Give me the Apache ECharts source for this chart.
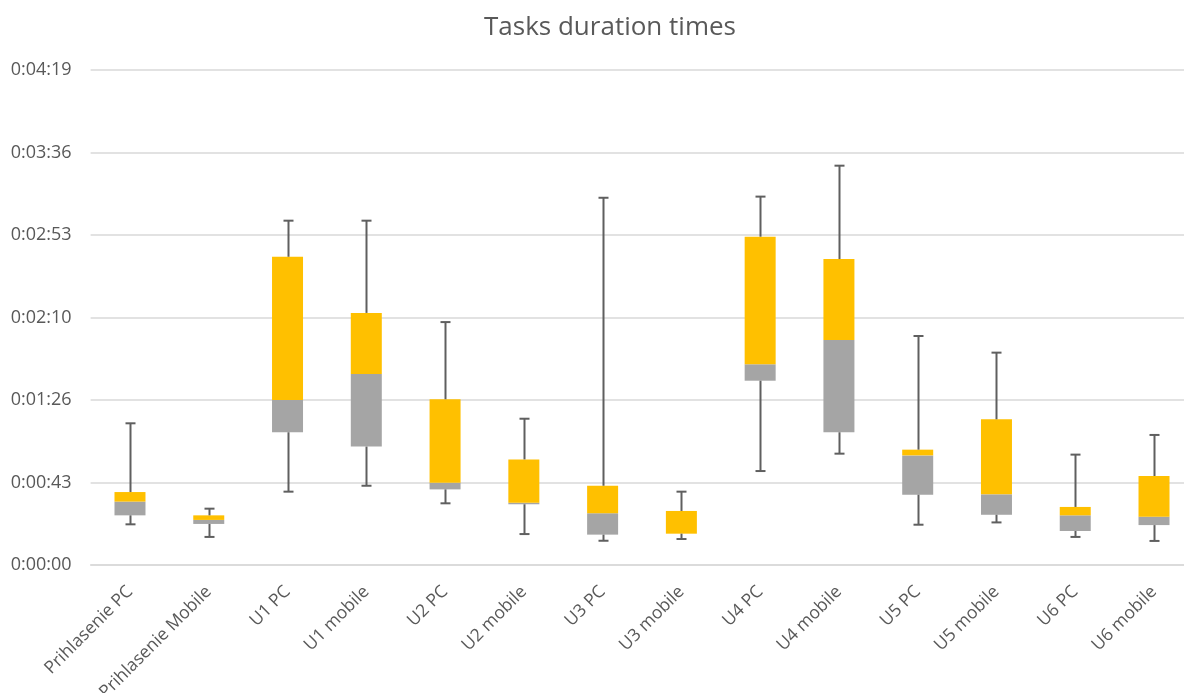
<!DOCTYPE html>
<html>
<head>
<meta charset="utf-8">
<title>Tasks duration times</title>
<script src="https://cdn.jsdelivr.net/npm/echarts@6/dist/echarts.min.js"></script>
<style>
  html, body { margin: 0; padding: 0; background: #ffffff; }
  #chart { width: 1184px; height: 693px; }
</style>
</head>
<body>
<div id="chart"></div>
<script>
// Task names (x axis)
const categories = [
  'Prihlasenie PC', 'Prihlasenie Mobile', 'U1 PC', 'U1 mobile', 'U2 PC', 'U2 mobile',
  'U3 PC', 'U3 mobile', 'U4 PC', 'U4 mobile', 'U5 PC', 'U5 mobile', 'U6 PC', 'U6 mobile'
];

// Duration statistics per task, in seconds
const minVals    = [21.3, 14.7, 38.4, 41.5, 32.3, 16.2, 12.7, 13.6, 49.2, 58.3, 21.1, 22.3, 14.7, 12.6];
const q1Vals     = [26.0, 21.5, 69.5, 62.0, 39.6, 31.8, 15.9, 16.4, 96.5, 69.5, 36.8, 26.3, 17.8, 20.9];
const medianVals = [33.2, 23.6, 86.4, 100.0, 43.1, 32.6, 27.1, 16.4, 105.1, 117.8, 57.4, 37.0, 26.0, 25.3];
const q3Vals     = [38.2, 26.0, 161.4, 132.0, 86.8, 55.3, 41.5, 28.3, 171.9, 160.2, 60.4, 76.3, 30.4, 46.6];
const maxVals    = [74.2, 29.5, 180.3, 180.3, 127.2, 76.6, 192.3, 38.4, 192.9, 209.1, 119.9, 111.2, 57.8, 68.1];

// Value axis ticks (seconds), shown as h:mm:ss
const axisMax = 259.2;
const axisStep = 43.2;

function toClock(sec) {
  const s = Math.round(sec);
  const h = Math.floor(s / 3600);
  const m = Math.floor((s % 3600) / 60);
  const r = s % 60;
  return h + ':' + String(m).padStart(2, '0') + ':' + String(r).padStart(2, '0');
}

// Stacked segments: invisible base up to Q1, grey Q1..median, yellow median..Q3
const baseSeg = q1Vals.slice();
const lowerSeg = medianVals.map((m, i) => +(m - q1Vals[i]).toFixed(3));
const upperSeg = q3Vals.map((q, i) => +(q - medianVals[i]).toFixed(3));

const whiskerData = categories.map((c, i) => [i, minVals[i], q1Vals[i], q3Vals[i], maxVals[i]]);

const textColor = '#595959';
const fontFamily = '"Open Sans", "Noto Sans", sans-serif';

const chart = echarts.init(document.getElementById('chart'), null, { renderer: 'canvas' });

chart.setOption({
  animation: false,
  backgroundColor: '#ffffff',
  title: {
    text: 'Tasks duration times',
    left: 479,
    top: 10,
    textStyle: { color: textColor, fontSize: 26, fontWeight: 'normal', fontFamily: fontFamily }
  },
  grid: {
    left: 90.6,
    width: 1102.8,
    top: 70,
    bottom: 128,
    containLabel: false,
    outerBoundsMode: 'none'
  },
  xAxis: {
    type: 'category',
    data: categories,
    axisTick: { show: false },
    axisLine: { lineStyle: { color: '#d9d9d9', width: 1.5 } },
    axisLabel: {
      rotate: 45,
      interval: 0,
      margin: 24,
      color: textColor,
      fontSize: 17.5,
      fontFamily: fontFamily
    }
  },
  yAxis: {
    type: 'value',
    min: 0,
    max: axisMax,
    interval: axisStep,
    axisLine: { show: false },
    axisTick: { show: false },
    splitLine: { lineStyle: { color: '#d9d9d9', width: 1.5 } },
    axisLabel: {
      margin: 19,
      color: textColor,
      fontSize: 18,
      fontFamily: fontFamily,
      formatter: v => toClock(v)
    }
  },
  series: [
    {
      name: 'base',
      type: 'bar',
      stack: 'box',
      barWidth: 31,
      data: baseSeg,
      itemStyle: { color: 'rgba(0,0,0,0)' },
      silent: true
    },
    {
      name: 'Q1 - median',
      type: 'bar',
      stack: 'box',
      barWidth: 31,
      data: lowerSeg,
      itemStyle: { color: '#a5a5a5' }
    },
    {
      name: 'median - Q3',
      type: 'bar',
      stack: 'box',
      barWidth: 31,
      data: upperSeg,
      itemStyle: { color: '#ffc000' }
    },
    {
      name: 'whiskers',
      type: 'custom',
      data: whiskerData,
      z: 5,
      renderItem: function (params, api) {
        const x = api.value(0);
        const pMin = api.coord([x, api.value(1)]);
        const pQ1 = api.coord([x, api.value(2)]);
        const pQ3 = api.coord([x, api.value(3)]);
        const pMax = api.coord([x, api.value(4)]);
        const cx = Math.round(pMin[0]) + 0.5;
        const half = 5;
        const style = { stroke: '#5f5f5f', lineWidth: 2 };
        return {
          type: 'group',
          children: [
            { type: 'line', shape: { x1: cx, y1: pQ1[1], x2: cx, y2: pMin[1] }, style: style },
            { type: 'line', shape: { x1: cx - half, y1: pMin[1], x2: cx + half, y2: pMin[1] }, style: style },
            { type: 'line', shape: { x1: cx, y1: pQ3[1], x2: cx, y2: pMax[1] }, style: style },
            { type: 'line', shape: { x1: cx - half, y1: pMax[1], x2: cx + half, y2: pMax[1] }, style: style }
          ]
        };
      }
    }
  ]
});
</script>
</body>
</html>
